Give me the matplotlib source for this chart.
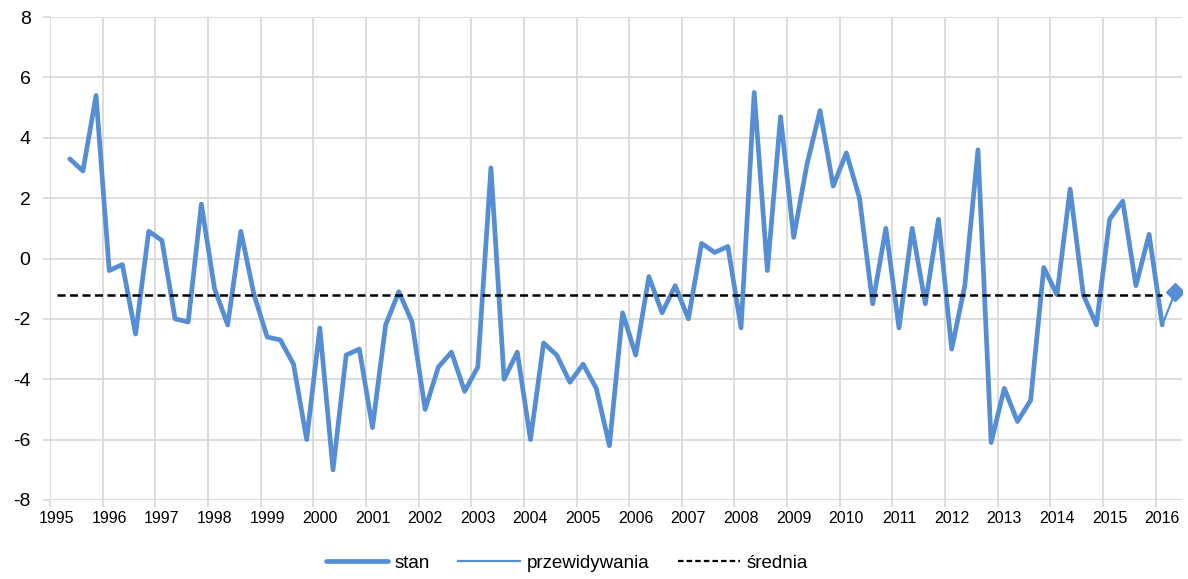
import matplotlib
matplotlib.use("Agg")
import matplotlib.pyplot as plt
from matplotlib.lines import Line2D
import numpy as np

# Quarterly series, 1995 Q1 .. 2016 Q2 (first quarter has no observation)
year_labels = [str(y) for y in range(1995, 2017)]
stan = [np.nan,
        3.3, 2.9, 5.4,                 # 1995
        -0.4, -0.2, -2.5, 0.9,         # 1996
        0.6, -2.0, -2.1, 1.8,          # 1997
        -1.0, -2.2, 0.9, -1.2,         # 1998
        -2.6, -2.7, -3.5, -6.0,        # 1999
        -2.3, -7.0, -3.2, -3.0,        # 2000
        -5.6, -2.2, -1.1, -2.1,        # 2001
        -5.0, -3.6, -3.1, -4.4,        # 2002
        -3.6, 3.0, -4.0, -3.1,         # 2003
        -6.0, -2.8, -3.2, -4.1,        # 2004
        -3.5, -4.3, -6.2, -1.8,        # 2005
        -3.2, -0.6, -1.8, -0.9,        # 2006
        -2.0, 0.5, 0.2, 0.4,           # 2007
        -2.3, 5.5, -0.4, 4.7,          # 2008
        0.7, 3.1, 4.9, 2.4,            # 2009
        3.5, 2.0, -1.5, 1.0,           # 2010
        -2.3, 1.0, -1.5, 1.3,          # 2011
        -3.0, -0.9, 3.6, -6.1,         # 2012
        -4.3, -5.4, -4.7, -0.3,        # 2013
        -1.2, 2.3, -1.2, -2.2,         # 2014
        1.3, 1.9, -0.9, 0.8,           # 2015
        -2.2]                          # 2016 Q1
przewidywania = [-2.2, -1.1]           # 2016 Q1 .. 2016 Q2
srednia = -1.2

n_q = len(stan) + 1
q = np.arange(n_q)
q_stan = q[:len(stan)]
q_prog = q[len(stan) - 1:]

BLUE = "#558ED5"
GRID = "#D9D9D9"
plt.rcParams["font.family"] = ["Liberation Sans", "DejaVu Sans"]
plt.rcParams["lines.scale_dashes"] = False
plt.rcParams["axes.unicode_minus"] = False

W, H = 1188, 579
fig = plt.figure(figsize=(W / 100, H / 100), dpi=100)
ax = fig.add_axes([50 / W, 1 - 500 / H, (1182 - 50) / W, (500 - 17) / H])

ax.plot(q_stan, stan, color=BLUE, lw=3.4, solid_joinstyle="round",
        solid_capstyle="round", zorder=3)
ax.plot(q_prog, przewidywania, color=BLUE, lw=1.6, zorder=3)
ax.plot(q_prog[-1:], przewidywania[-1:], marker="D", ms=9, color=BLUE,
        lw=0, zorder=4)
ax.plot(q_stan, [srednia] * len(q_stan), color="black", lw=1.8,
        dashes=(5.8, 3.2), zorder=5)

ax.set_xlim(-0.5, n_q - 0.5)
ax.set_ylim(-8, 8)
ax.set_yticks(np.arange(-8, 9, 2))
ax.set_xticks(np.arange(0, n_q, 4))
ax.set_xticklabels(year_labels)
ax.set_xticks(np.arange(-0.5, n_q - 1, 4), minor=True)

ax.grid(False)
for yv in np.arange(-8, 9, 2):
    ax.axhline(yv, color=GRID, lw=1.3, zorder=1)
for xv in np.arange(-0.5, n_q - 1, 4):
    ax.axvline(xv, color=GRID, lw=1.3, zorder=1)

ax.tick_params(axis="y", length=5, width=1.3, color=GRID, pad=9,
               labelsize=14, labelcolor="#000000")
ax.tick_params(axis="x", which="major", length=0, pad=8, labelsize=11.5,
               labelcolor="#000000")
ax.tick_params(axis="x", which="minor", length=5, width=1.3, color=GRID)
for s in ax.spines.values():
    s.set_visible(False)

handles = [Line2D([], [], color=BLUE, lw=3.4, solid_capstyle="round"),
           Line2D([], [], color=BLUE, lw=1.6),
           Line2D([], [], color="black", lw=1.6, dashes=(4.0, 2.2))]
fig.legend(handles, ["stan", "przewidywania", "średnia"],
           loc="center", bbox_to_anchor=(567 / W, 1 - 563 / H),
           ncol=3, frameon=False, fontsize=13.5, handlelength=3.3,
           handletextpad=0.35, columnspacing=1.5, borderpad=0)

fig.savefig("out.png", dpi=100, facecolor="white")
